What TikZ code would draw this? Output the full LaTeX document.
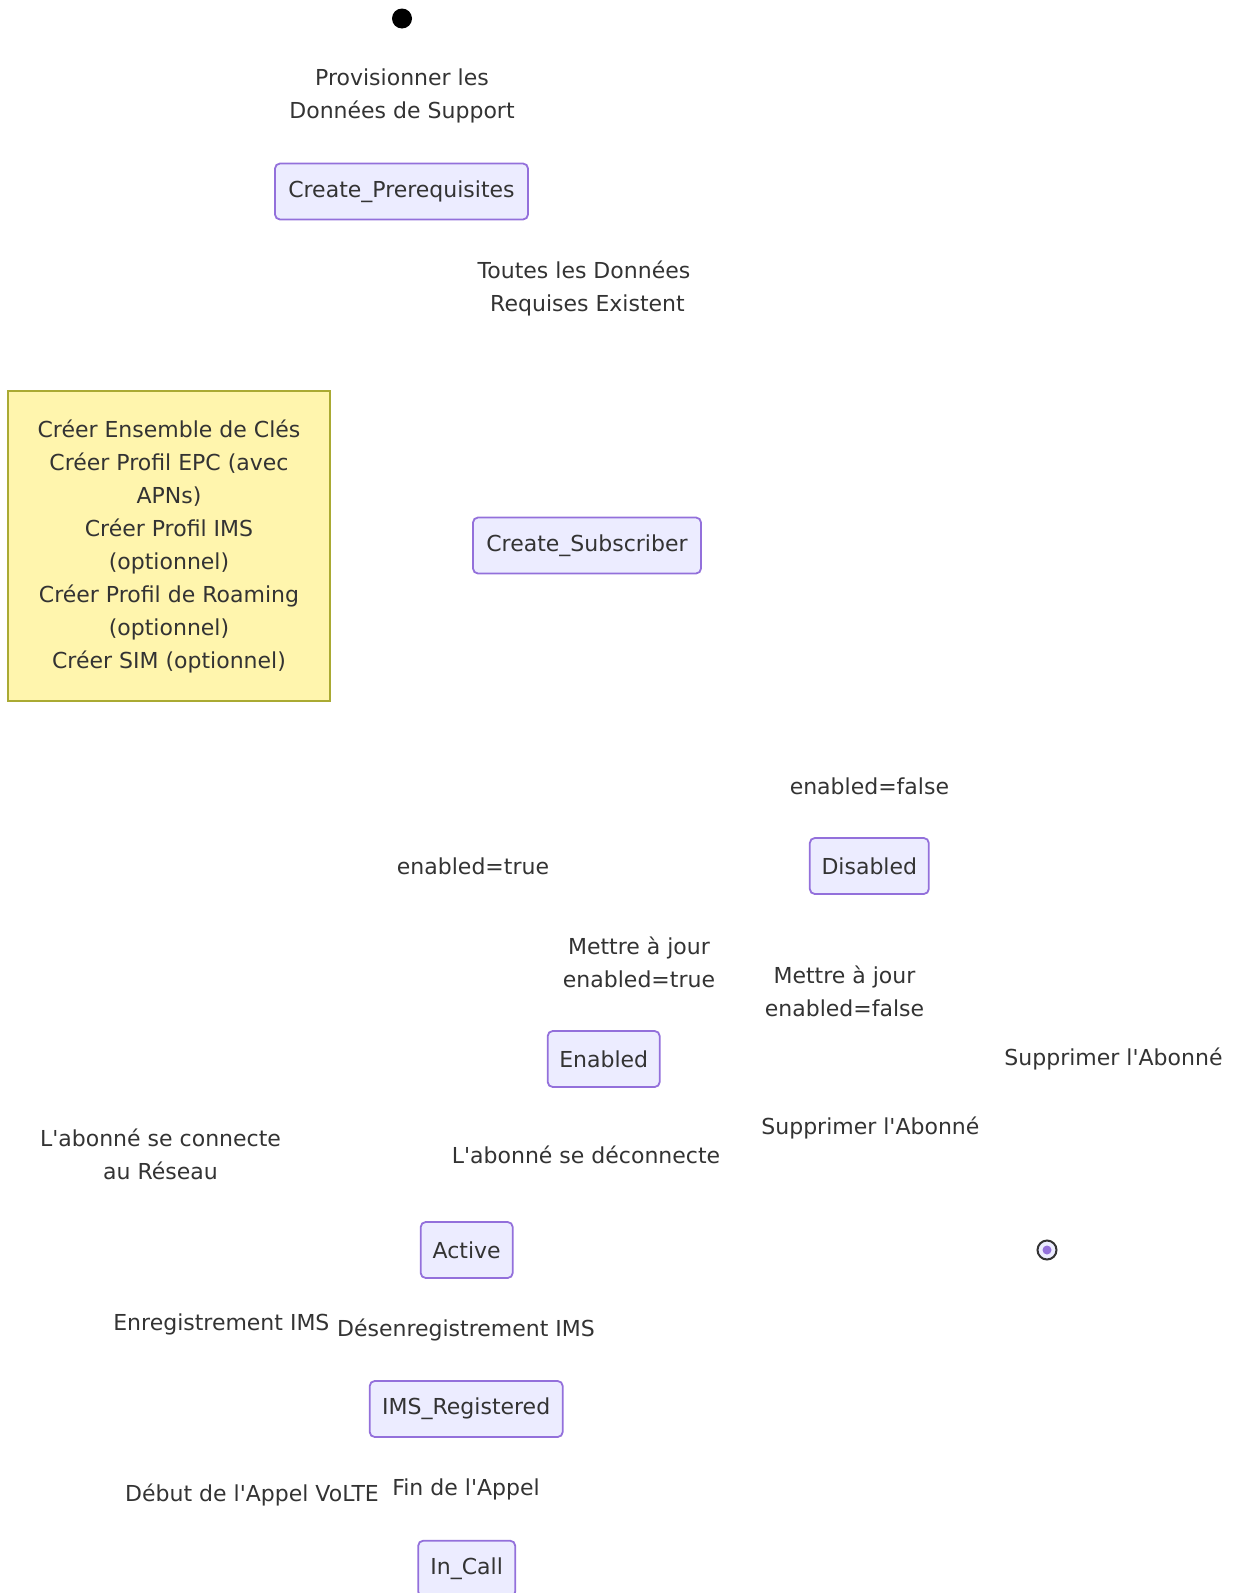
\documentclass[tikz,border=0pt]{standalone}
\usepackage{fontspec}
\setmainfont{DejaVu Sans}[Ligatures=TeXOff]
\definecolor{txt}{HTML}{333333}
\definecolor{stfill}{HTML}{ECECFF}
\definecolor{stdraw}{HTML}{9370DB}
\definecolor{notefill}{HTML}{FFF5AD}
\definecolor{notedraw}{HTML}{AAAA33}
\begin{document}
\begin{tikzpicture}[x=1pt,y=-1pt,
  every node/.style={font=\fontsize{22}{33}\selectfont, text=txt},
  statebox/.style={draw=stdraw, fill=stfill, line width=1.8pt, rounded corners=5pt, inner sep=0pt, minimum height=56pt},
  lbl/.style={align=center, inner sep=0pt},
  notebox/.style={draw=notedraw, fill=notefill, line width=1.8pt, inner sep=0pt, align=center}]
\useasboundingbox (0,0) rectangle (1239,1593);
% start and end
\node[circle, fill=black, minimum size=20pt, inner sep=0pt] (start) at (402,18.5) {};
\node[circle, draw=txt, fill=stfill, line width=2pt, minimum size=19pt, inner sep=0pt] (endst) at (1047,1250) {};
\node[circle, fill=stdraw, minimum size=9pt, inner sep=0pt] (endin) at (endst.center) {};
% states
\node[statebox, minimum width=253pt] (prereq) at (401.5,191.5) {Create\_Prerequisites};
\node[statebox, minimum width=228pt] (subscr) at (587,545.5) {Create\_Subscriber};
\node[statebox, minimum width=119pt] (disabled) at (869.3,866) {Disabled};
\node[statebox, minimum width=112pt] (enabled) at (603.7,1059) {Enabled};
\node[statebox, minimum width=92pt] (active) at (466.7,1250) {Active};
\node[statebox, minimum width=193pt] (ims) at (466.2,1409) {IMS\_Registered};
\node[statebox, minimum width=97pt] (incall) at (466.7,1568.7) {In\_Call};
% note
\node[notebox, minimum width=322pt, minimum height=310pt] (note) at (169,546) {Créer Ensemble de Clés\\Créer Profil EPC (avec\\APNs)\\Créer Profil IMS\\(optionnel)\\Créer Profil de Roaming\\(optionnel)\\Créer SIM (optionnel)};
% labels
\node[lbl] (l1) at (402,96) {Provisionner les\\Données de Support};
\node[lbl] (l2) at (584,288.5) {Toutes les Données\\\hspace*{7pt}Requises Existent};
\node[lbl] (l3) at (869.4,786) {enabled=false};
\node[lbl] (l4) at (473,866) {enabled=true};
\node[lbl] (l5) at (639,962) {Mettre à jour\\enabled=true};
\node[lbl] (l6) at (844.5,991.5) {Mettre à jour\\enabled=false};
\node[lbl] (l7) at (1113.5,1059) {Supprimer l'Abonné};
\node[lbl] (l8) at (870.4,1128) {Supprimer l'Abonné};
\node[lbl] (l9) at (160.5,1154) {L'abonné se connecte\\au Réseau};
\node[lbl] (l10) at (586,1155) {L'abonné se déconnecte};
\node[lbl] (l11) at (221.4,1324) {Enregistrement IMS};
\node[lbl] (l12) at (466,1330) {Désenregistrement IMS};
\node[lbl] (l13) at (252,1495) {Début de l'Appel VoLTE};
\node[lbl] (l14) at (466,1489.5) {Fin de l'Appel};
\end{tikzpicture}
\end{document}
